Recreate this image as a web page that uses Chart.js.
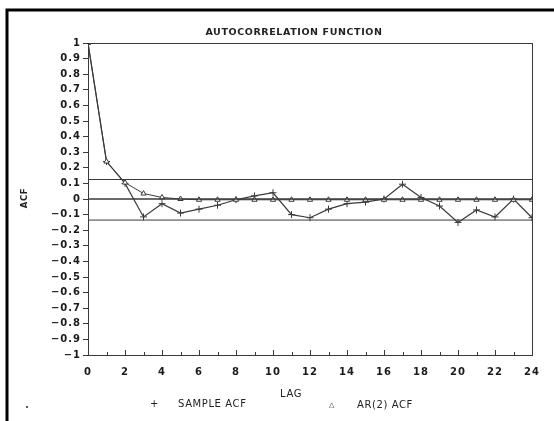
<!DOCTYPE html>
<html>
<head>
<meta charset="utf-8">
<script src="https://cdn.jsdelivr.net/npm/chart.js@4.4.1/dist/chart.umd.min.js"></script>
<style>
  html, body { margin: 0; padding: 0; background: #fff; }
  #grafico { display: block; }
</style>
</head>
<body>
<canvas id="grafico" width="554" height="421"></canvas>
<script>
// lags 0..24
const lags = [0, 1, 2, 3, 4, 5, 6, 7, 8, 9, 10, 11, 12, 13, 14, 15, 16, 17, 18, 19, 20, 21, 22, 23, 24];
const sampleAcf = [1, 0.24, 0.10, -0.115, -0.03, -0.09, -0.065, -0.04, -0.005, 0.02, 0.04, -0.10, -0.12, -0.065, -0.03, -0.02, 0.0, 0.095, 0.01, -0.045, -0.15, -0.07, -0.115, 0.0, -0.12];
const ar2Acf = [1, 0.24, 0.105, 0.035, 0.01, 0.0, -0.005, -0.005, -0.005, -0.005, -0.005, -0.005, -0.005, -0.005, -0.005, -0.005, -0.005, -0.005, -0.005, -0.005, -0.005, -0.005, -0.005, -0.005, -0.005];
const limiteSup = 0.125;
const limiteInf = -0.135;
const yTicks = [1, 0.9, 0.8, 0.7, 0.6, 0.5, 0.4, 0.3, 0.2, 0.1, 0, -0.1, -0.2, -0.3, -0.4, -0.5, -0.6, -0.7, -0.8, -0.9, -1];
const xTicksRotulo = [0, 2, 4, 6, 8, 10, 12, 14, 16, 18, 20, 22, 24];

const COR = "#3a3a3a";
const FONTE = "'DejaVu Sans', sans-serif";

function pontos(valores) {
  return lags.map((l, i) => ({ x: l, y: valores[i] }));
}

function linhaHoriz(v) {
  return [{ x: lags[0], y: v }, { x: lags[lags.length - 1], y: v }];
}

function rotuloY(v) {
  const r = Math.round(v * 10) / 10;
  if (r < 0) return "\u2212" + String(Math.abs(r));
  return String(r);
}

const textos = {
  id: "textos",
  beforeDraw(chart) {
    chart.ctx.letterSpacing = "1px";
  },
  afterDraw(chart) {
    const ctx = chart.ctx;
    const area = chart.chartArea;
    const xs = chart.scales.x;

    ctx.save();
    // moldura do grafico
    ctx.strokeStyle = COR;
    ctx.lineWidth = 1;
    ctx.strokeRect(area.left + 0.5, area.top + 0.5, area.right - area.left, area.bottom - area.top);

    // marcas do eixo x, para dentro
    lags.forEach((l) => {
      const px = Math.round(xs.getPixelForValue(l)) + 0.5;
      const tam = l % 2 === 0 ? 5 : 3;
      ctx.beginPath();
      ctx.moveTo(px, area.bottom);
      ctx.lineTo(px, area.bottom - tam);
      ctx.stroke();
    });

    // borda da figura
    ctx.strokeStyle = "#000";
    ctx.lineWidth = 3;
    ctx.beginPath();
    ctx.moveTo(554, 10);
    ctx.lineTo(7, 10);
    ctx.lineTo(7, 421);
    ctx.stroke();

    ctx.fillStyle = "#222";
    ctx.textBaseline = "middle";

    ctx.letterSpacing = "0.6px";
    ctx.font = "bold 9.5px " + FONTE;
    ctx.textAlign = "center";
    ctx.fillText("AUTOCORRELATION FUNCTION", 294, 33);

    ctx.letterSpacing = "0.6px";
    ctx.font = "10px " + FONTE;
    ctx.fillText("LAG", 291, 394);

    ctx.textAlign = "left";
    ctx.fillText("+", 150, 404);
    ctx.fillText("SAMPLE ACF", 178, 404);
    ctx.font = "7px " + FONTE;
    ctx.fillText("\u25b3", 329, 405);
    ctx.font = "10px " + FONTE;
    ctx.fillText("AR(2) ACF", 357, 405);

    ctx.beginPath();
    ctx.arc(27, 407, 1, 0, Math.PI * 2);
    ctx.fill();

    ctx.save();
    ctx.translate(25, 198);
    ctx.rotate(-Math.PI / 2);
    ctx.textAlign = "center";
    ctx.letterSpacing = "0.6px";
    ctx.font = "bold 8.5px " + FONTE;
    ctx.fillText("ACF", 0, 0);
    ctx.restore();

    ctx.restore();
  }
};

const ctx = document.getElementById("grafico").getContext("2d");

new Chart(ctx, {
  type: "line",
  data: {
    datasets: [
      {
        data: linhaHoriz(limiteSup),
        borderColor: COR,
        borderWidth: 1,
        pointRadius: 0
      },
      {
        data: linhaHoriz(limiteInf),
        borderColor: COR,
        borderWidth: 1,
        pointRadius: 0
      },
      {
        data: linhaHoriz(0),
        borderColor: COR,
        borderWidth: 1.5,
        pointRadius: 0
      },
      {
        label: "AR(2) ACF",
        data: pontos(ar2Acf),
        borderColor: COR,
        borderWidth: 1,
        pointStyle: "triangle",
        pointRadius: 3,
        pointBorderWidth: 1,
        pointBackgroundColor: "#fff",
        pointBorderColor: COR,
        tension: 0
      },
      {
        label: "SAMPLE ACF",
        data: pontos(sampleAcf),
        borderColor: COR,
        borderWidth: 1.2,
        pointStyle: "cross",
        pointRadius: 3.5,
        pointBorderWidth: 1,
        pointBorderColor: COR,
        tension: 0
      }
    ]
  },
  options: {
    responsive: false,
    animation: false,
    layout: { padding: { top: 43, right: 22, bottom: 36, left: 0 } },
    plugins: {
      legend: { display: false },
      tooltip: { enabled: false }
    },
    scales: {
      x: {
        type: "linear",
        min: 0,
        max: 24,
        afterBuildTicks: (s) => { s.ticks = xTicksRotulo.map((v) => ({ value: v })); },
        afterFit: (s) => { s.height = 30; },
        ticks: {
          autoSkip: false,
          maxRotation: 0,
          padding: 11,
          color: "#1a1a1a",
          font: { family: FONTE, size: 10, weight: "bold" }
        },
        grid: { display: true, drawOnChartArea: false, drawTicks: false },
        border: { display: true, color: COR, width: 1 }
      },
      y: {
        min: -1,
        max: 1,
        afterBuildTicks: (s) => { s.ticks = yTicks.map((v) => ({ value: v })); },
        afterFit: (s) => { s.width = 88; },
        ticks: {
          autoSkip: false,
          padding: 2,
          color: "#1a1a1a",
          font: { family: FONTE, size: 10, weight: "bold" },
          callback: (v) => rotuloY(v)
        },
        grid: { display: true, drawOnChartArea: false, tickLength: 5, color: COR },
        border: { display: true, color: COR, width: 1 }
      }
    }
  },
  plugins: [textos]
});
</script>
</body>
</html>
